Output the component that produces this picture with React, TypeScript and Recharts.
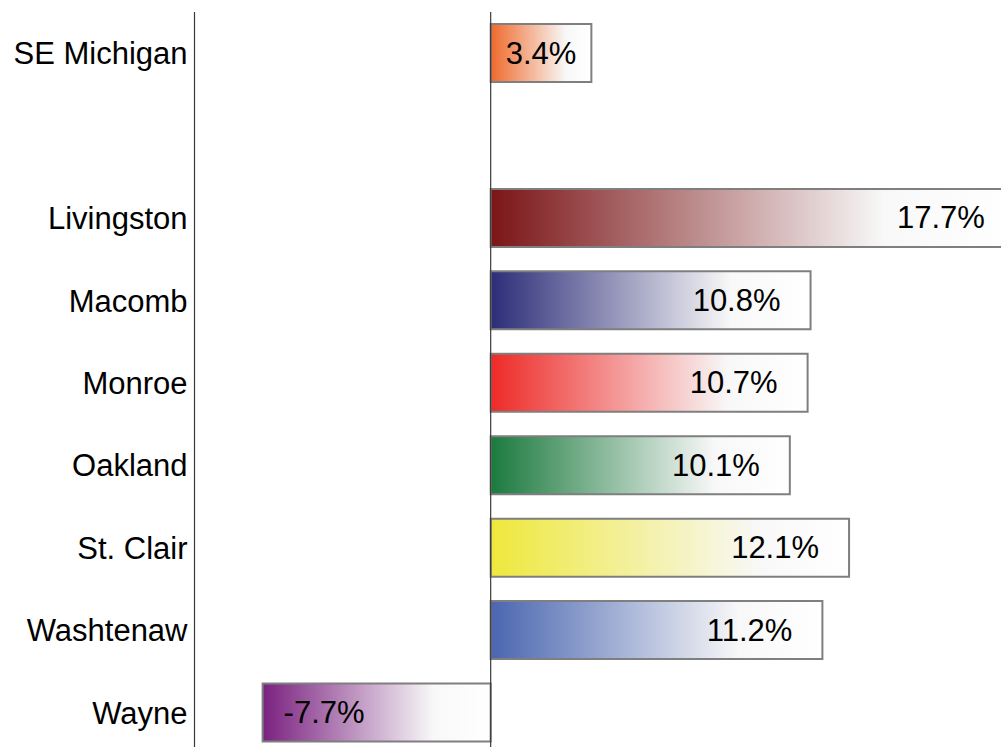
import React from "react";
import { BarChart, Bar, XAxis, YAxis, Cell, ReferenceLine, LabelList } from "recharts";

const categories = ["SE Michigan", "", "Livingston", "Macomb", "Monroe", "Oakland", "St. Clair", "Washtenaw", "Wayne"];
const values: (number | null)[] = [3.4, null, 17.7, 10.8, 10.7, 10.1, 12.1, 11.2, -7.7];
const colors = ["#EF6A2C", "#ffffff", "#7B1517", "#2C2D78", "#EE2A27", "#1B7A3E", "#EEE83C", "#4A66B0", "#7A2180"];
const valueLabels = ["3.4%", "", "17.7%", "10.8%", "10.7%", "10.1%", "12.1%", "11.2%", "-7.7%"];

const data = categories.map((c, i) => ({ name: c, value: values[i], label: valueLabels[i] }));

const FONT = "'Liberation Sans', Arial, sans-serif";

const renderLabel = (props: any) => {
  const { x, y, width, height, value } = props;
  const text = String(value ?? "");
  if (!text) return null;
  const neg = text.startsWith("-");
  const left = Math.min(x, x + width);
  const right = Math.max(x, x + width);
  const w = right - left;
  const cy = y + height / 2;
  let tx = 0;
  let anchor: "start" | "middle" | "end" = "middle";
  if (neg) {
    tx = left + 21;
    anchor = "start";
  } else if (w > 150) {
    tx = right - 30;
    anchor = "end";
  } else {
    tx = left + w / 2;
    anchor = "middle";
  }
  return (
    <text x={tx} y={cy} textAnchor={anchor} dominantBaseline="central" fontSize={31} fontFamily={FONT} fill="#000">
      {text}
    </text>
  );
};

export default function App() {
  return (
    <div
      style={{
        width: 1001,
        height: 747,
        overflow: "hidden",
        paddingTop: 8,
        paddingLeft: 8,
        boxSizing: "border-box",
        background: "#fff",
      }}
    >
      <style>{"html,body{margin:0;padding:0;overflow:hidden;}"}</style>
      <BarChart
        width={993}
        height={746}
        data={data}
        layout="vertical"
        margin={{ top: 4, right: 0, bottom: 0, left: 0 }}
        barCategoryGap={0}
      >
        <defs>
          {colors.map((c, i) => (
            <linearGradient key={i} id={`grad-${i}`} x1="0" y1="0" x2="1" y2="0">
              <stop offset="0" stopColor={c} />
              <stop offset="0.75" stopColor="#f8f8f8" />
              <stop offset="1" stopColor="#ffffff" />
            </linearGradient>
          ))}
        </defs>
        <XAxis type="number" domain={[-10, 17.23]} allowDataOverflow hide />
        <YAxis
          type="category"
          dataKey="name"
          width={186.5}
          tickLine={false}
          tickSize={0}
          tickMargin={7}
          axisLine={{ stroke: "#3a3a3a", strokeWidth: 1.2 }}
          tick={{ fontSize: 31, fontFamily: FONT, fill: "#000" }}
          interval={0}
        />
        <Bar dataKey="value" barSize={58} stroke="#7f7f7f" strokeWidth={2} isAnimationActive={false}>
          {data.map((d, i) => (
            <Cell key={i} fill={`url(#grad-${i})`} />
          ))}
          <LabelList dataKey="label" content={renderLabel} />
        </Bar>
        <ReferenceLine x={0} stroke="#3a3a3a" strokeWidth={1.2} ifOverflow="extendDomain" />
      </BarChart>
    </div>
  );
}
